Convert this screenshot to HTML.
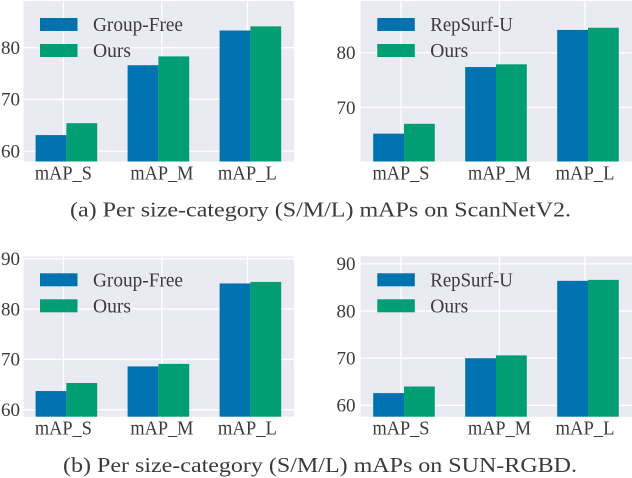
<!DOCTYPE html>
<html>
<head>
<meta charset="utf-8">
<title>Per size-category mAPs</title>
<style>
html,body{margin:0;padding:0;background:#fff;width:632px;height:478px;overflow:hidden}
svg{display:block;filter:blur(.35px)}
text{font-family:"Liberation Serif",serif;fill:#3b3b3b}
</style>
</head>
<body>
<svg id="figure" width="632" height="478" viewBox="0 0 632 478" xmlns="http://www.w3.org/2000/svg">
<text x="70" y="216.5" font-size="21" textLength="501" lengthAdjust="spacingAndGlyphs">(a) Per size-category (S/M/L) mAPs on ScanNetV2.</text>
<text x="63" y="472" font-size="21" textLength="514" lengthAdjust="spacingAndGlyphs">(b) Per size-category (S/M/L) mAPs on SUN-RGBD.</text>
</svg>
<script>
const categories = ['mAP_S', 'mAP_M', 'mAP_L'];
const oursName = 'Ours';

const scanGroupFreeName = 'Group-Free';
const scanGroupFree = [63.1, 76.6, 83.3];
const scanGroupFreeOurs = [65.4, 78.3, 84.1];
const scanGroupFreeTicks = [60, 70, 80];
const scanGroupFreeDomain = [58, 89];

const scanRepSurfName = 'RepSurf-U';
const scanRepSurf = [65.2, 77.4, 84.2];
const scanRepSurfOurs = [67, 77.9, 84.6];
const scanRepSurfTicks = [70, 80];
const scanRepSurfDomain = [60.1, 89.5];

const sunGroupFreeName = 'Group-Free';
const sunGroupFree = [63.7, 68.6, 85.1];
const sunGroupFreeOurs = [65.3, 69.1, 85.4];
const sunGroupFreeTicks = [60, 70, 80, 90];
const sunGroupFreeDomain = [58.6, 90.5];

const sunRepSurfName = 'RepSurf-U';
const sunRepSurf = [62.6, 70, 86.4];
const sunRepSurfOurs = [64, 70.6, 86.6];
const sunRepSurfTicks = [60, 70, 80, 90];
const sunRepSurfDomain = [57.6, 91.6];

const BLUE = '#0172b0';
const GREEN = '#029e73';
const PANEL_BG = '#eaeaf2';
const svg = document.getElementById('figure');

function make(tag, attrs, parent) {
  const node = document.createElementNS('http://www.w3.org/2000/svg', tag);
  for (const k in attrs) node.setAttribute(k, attrs[k]);
  parent.appendChild(node);
  return node;
}

function drawPanel(opts) {
  const g = make('g', {}, svg);
  
  

  const left = opts.left, right = opts.right, top = opts.top, bottom = opts.bottom;
  const yAxis = v => bottom - (v - opts.domain[0]) / (opts.domain[1] - opts.domain[0]) * (bottom - top);
  const barWidth = 30.8;
  const groupStep = 92;
  const groupCenter = i => opts.firstCenter + i * groupStep;
  // The gridlines and tick labels sit slightly off the bar-group centres in the source figure.
  const tickShift = i => (i === 1 ? 3.5 : -3);
  const tickWidth = i => (i === 0 ? 57 : i === 1 ? 63 : 59);

  const bg = make('rect', { x: left, y: top, width: right - left, height: bottom - top, fill: PANEL_BG }, g);
  
  

  opts.ticks.forEach(t => {
    const line = make('line', { x1: left, x2: right, y1: yAxis(t), y2: yAxis(t), stroke: '#fff', 'stroke-width': 1.4 }, g);
    
    
    const label = make('text', { x: opts.tickRight, y: yAxis(t) + 6.3, 'text-anchor': 'end', 'font-size': 19 }, g);
    label.textContent = t;
    
    
  });

  categories.forEach((c, i) => {
    const px = groupCenter(i) + tickShift(i);
    const line = make('line', { x1: px, x2: px, y1: top, y2: bottom, stroke: '#fff', 'stroke-width': 1.4 }, g);
    
    
    const label = make('text', {
      x: px, y: bottom + 18, 'text-anchor': 'middle', 'font-size': 19.5,
      textLength: tickWidth(i), lengthAdjust: 'spacingAndGlyphs'
    }, g);
    label.textContent = c;
    
    
  });

  categories.forEach((c, i) => {
    const base = make('rect', {
      x: groupCenter(i) - barWidth, y: yAxis(opts.baseline[i]), width: barWidth,
      height: bottom - yAxis(opts.baseline[i]), fill: BLUE
    }, g);
    
    
    const ours = make('rect', {
      x: groupCenter(i), y: yAxis(opts.ours[i]), width: barWidth,
      height: bottom - yAxis(opts.ours[i]), fill: GREEN
    }, g);
    
    
  });

  const swatchW = 37.5, swatchH = 13;
  const s1 = make('rect', { x: opts.legendX, y: top + 17, width: swatchW, height: swatchH, fill: BLUE }, g);
  
  
  const s2 = make('rect', { x: opts.legendX, y: top + 43, width: swatchW, height: swatchH, fill: GREEN }, g);
  
  
  const t1 = make('text', {
    x: opts.legendX + 53, y: top + 30, 'font-size': 19.5,
    textLength: opts.legendWidth, lengthAdjust: 'spacingAndGlyphs'
  }, g);
  t1.textContent = opts.baselineName;
  
  
  const t2 = make('text', {
    x: opts.legendX + 53, y: top + 56, 'font-size': 19.5,
    textLength: 38, lengthAdjust: 'spacingAndGlyphs'
  }, g);
  t2.textContent = oursName;
  
  
}

drawPanel({
  name: 'chart-scannet-group-free', left: 23.5, right: 294, top: 1, bottom: 161.5,
  domain: scanGroupFreeDomain, ticks: scanGroupFreeTicks,
  baseline: scanGroupFree, ours: scanGroupFreeOurs, baselineName: scanGroupFreeName,
  firstCenter: 66.4, tickRight: 20, legendX: 40, legendWidth: 90
});
drawPanel({
  name: 'chart-scannet-repsurf', left: 360.7, right: 632, top: 1, bottom: 161.5,
  domain: scanRepSurfDomain, ticks: scanRepSurfTicks,
  baseline: scanRepSurf, ours: scanRepSurfOurs, baselineName: scanRepSurfName,
  firstCenter: 404, tickRight: 355.5, legendX: 377.3, legendWidth: 82.5
});
drawPanel({
  name: 'chart-sunrgbd-group-free', left: 23.5, right: 294, top: 256.3, bottom: 416.7,
  domain: sunGroupFreeDomain, ticks: sunGroupFreeTicks,
  baseline: sunGroupFree, ours: sunGroupFreeOurs, baselineName: sunGroupFreeName,
  firstCenter: 66.4, tickRight: 20, legendX: 40, legendWidth: 90
});
drawPanel({
  name: 'chart-sunrgbd-repsurf', left: 360.7, right: 632, top: 256.3, bottom: 416.7,
  domain: sunRepSurfDomain, ticks: sunRepSurfTicks,
  baseline: sunRepSurf, ours: sunRepSurfOurs, baselineName: sunRepSurfName,
  firstCenter: 404, tickRight: 355.5, legendX: 377.3, legendWidth: 82.5
});
</script>
</body>
</html>
